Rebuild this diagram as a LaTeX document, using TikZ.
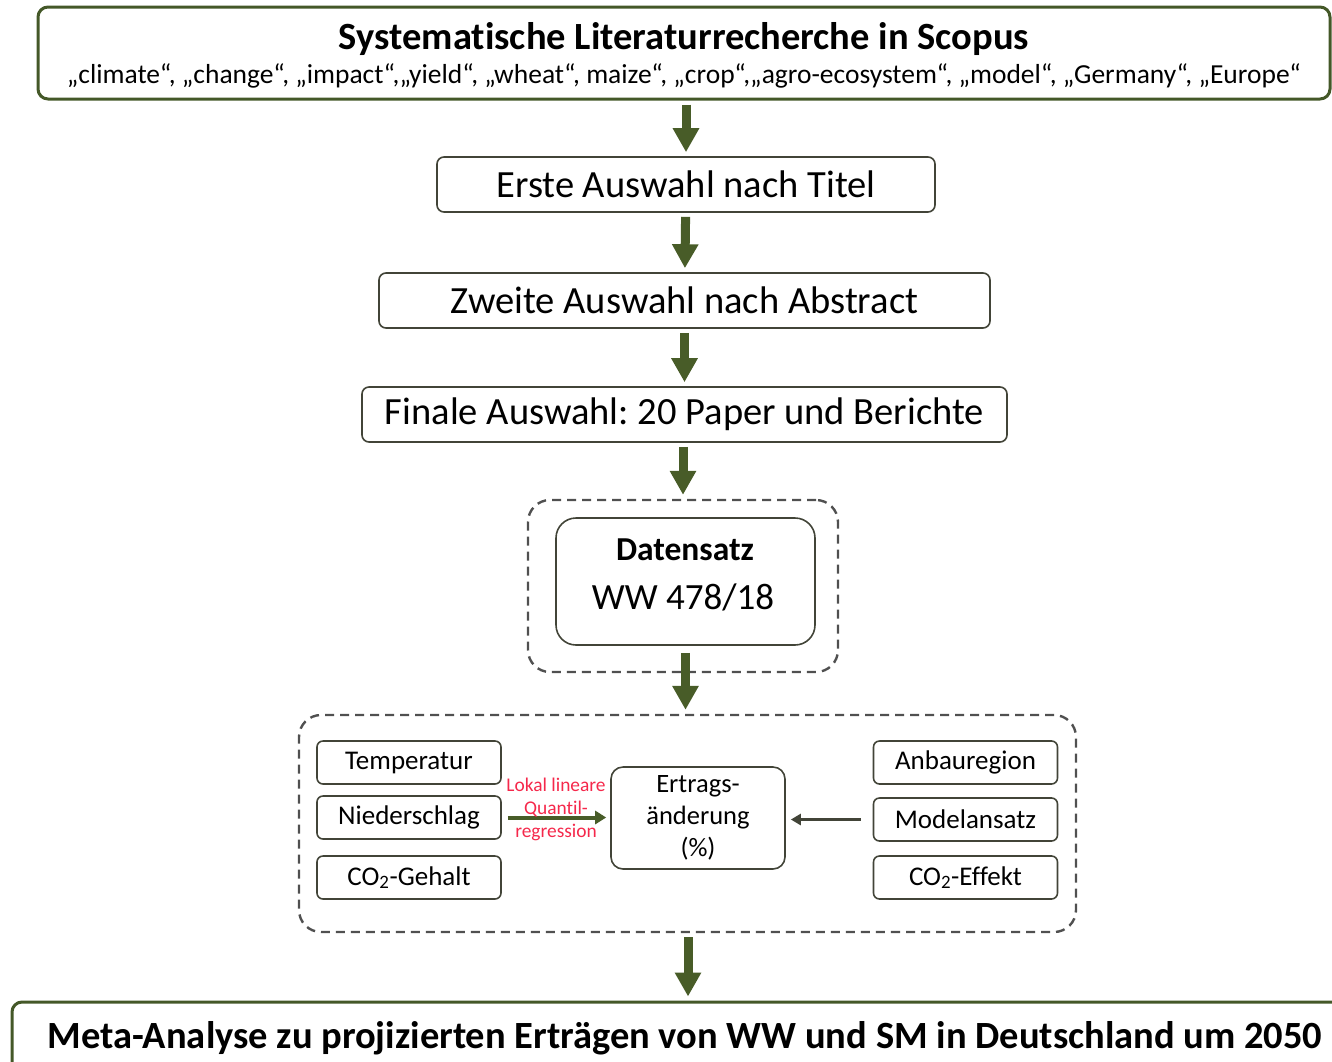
\documentclass[tikz,border=0pt]{standalone}
\usepackage{fontspec}
\setmainfont{Carlito}[Ligatures=CommonOff]
\usetikzlibrary{arrows.meta}
\frenchspacing

\definecolor{framegreen}{RGB}{68,88,40}
\definecolor{arrowgreen}{RGB}{72,92,40}
\definecolor{boxgray}{RGB}{66,68,56}
\definecolor{dashgray}{RGB}{80,80,80}
\definecolor{methodred}{RGB}{245,40,75}

\begin{document}
\begin{tikzpicture}[x=1pt, y=-1pt,
  framebox/.style={draw=framegreen, line width=3pt, rounded corners=10pt, fill=white},
  stagebox/.style={draw=boxgray, line width=1.6pt, rounded corners=7pt, fill=white,
    minimum height=55pt, inner sep=0pt, font=\fontsize{38.5}{42}\selectfont},
  groupbox/.style={draw=dashgray, line width=2.4pt, dash pattern=on 9pt off 6pt, rounded corners=22pt},
  factorbox/.style={draw=boxgray, line width=1.6pt, rounded corners=6pt, minimum width=184pt,
    minimum height=43pt, inner sep=0pt, font=\fontsize{27}{30}\selectfont},
  flowarrow/.style={draw=arrowgreen, line width=9pt, -{Triangle[width=25pt,length=24pt]},
    shorten <=4pt, shorten >=4pt},
]
\clip (0,0) rectangle (1332,1061);
% ---- search in Scopus ----
\node[framebox, minimum width=1292pt, minimum height=92pt] (search) at (684,53) {};
\node[font=\fontsize{38.5}{42}\selectfont\bfseries] (searchtitle) at (684,39)
  {Systematische Literaturrecherche in Scopus};
\node[font=\fontsize{27.5}{30}\selectfont] (searchterms) at (684,76)
  {„climate“, „change“, „impact“,„yield“, „wheat“, maize“, „crop“,„agro-ecosystem“, „model“, „Germany“, „Europe“};
% ---- selection steps ----
\node[stagebox, minimum width=498pt] (first) at (686,184.5) {Erste Auswahl nach Titel};
\node[stagebox, minimum width=611pt] (second) at (684.5,300.5) {Zweite Auswahl nach Abstract};
\node[stagebox, minimum width=645pt] (final) at (684.5,414.5) {Finale Auswahl: 20 Paper und Berichte};
% ---- data set ----
\node[groupbox, minimum width=310pt, minimum height=172pt] (dataouter) at (683,586) {};
\node[draw=boxgray, line width=1.6pt, rounded corners=20pt, minimum width=259pt,
  minimum height=127pt] (data) at (685.5,581.5) {};
\node[font=\fontsize{33.5}{36}\selectfont\bfseries] (datatitle) at (685,550) {Datensatz};
\node[font=\fontsize{37}{40}\selectfont] (datacount) at (683,597) {WW 478/18};
% ---- regression model ----
\node[groupbox, minimum width=777pt, minimum height=217pt] (model) at (687.5,823.5) {};
\node[factorbox] (temp) at (409,762.5) {Temperatur};
\node[factorbox] (rain) at (409,817.5) {Niederschlag};
\node[factorbox] (co2) at (409,877.5) {CO\textsubscript{2}-Gehalt};
\node[factorbox] (region) at (965.5,762.5) {Anbauregion};
\node[factorbox] (approach) at (965.5,819.5) {Modelansatz};
\node[factorbox] (effect) at (965.5,877.5) {CO\textsubscript{2}-Effekt};
\node[factorbox, minimum width=174pt, minimum height=102pt, rounded corners=12pt,
  align=center, font=\fontsize{26.5}{32}\selectfont] (change) at (698,818)
  {Ertrags-\\änderung\\(\%)};
\draw[arrowgreen, line width=4pt, -{Triangle[width=13pt,length=11pt]},
  shorten <=6pt, shorten >=4pt] (rain.east) -- (rain.east -| change.west);
\draw[boxgray, line width=3pt, -{Triangle[width=11pt,length=10pt]},
  shorten <=12pt, shorten >=5pt] (approach.west) -- (approach.west -| change.east);
\node[text=methodred, align=center, font=\fontsize{19.4}{23}\selectfont] (method) at (556,809)
  {Lokal lineare\\Quantil-\\regression};
% ---- meta-analysis ----
\node[framebox, minimum width=1346pt, minimum height=76pt] (meta) at (685,1040) {};
\node[font=\fontsize{38.5}{42}\selectfont\bfseries] (metatext) at (685,1038)
  {Meta-Analyse zu projizierten Erträgen von WW und SM in Deutschland um 2050};
% ---- flow ----
\draw[flowarrow] (search.south -| first.north) -- (first.north);
\draw[flowarrow] (first) -- (second);
\draw[flowarrow] (second) -- (final);
\draw[flowarrow] (final.south -| dataouter.north) -- (dataouter.north);
\draw[flowarrow, shorten <=7pt] (data.south) -- (data.south |- model.north);
\draw[flowarrow] (model.south -| datacount) ++(5,0) -- (meta.north -| 688,0);
\end{tikzpicture}
\end{document}
